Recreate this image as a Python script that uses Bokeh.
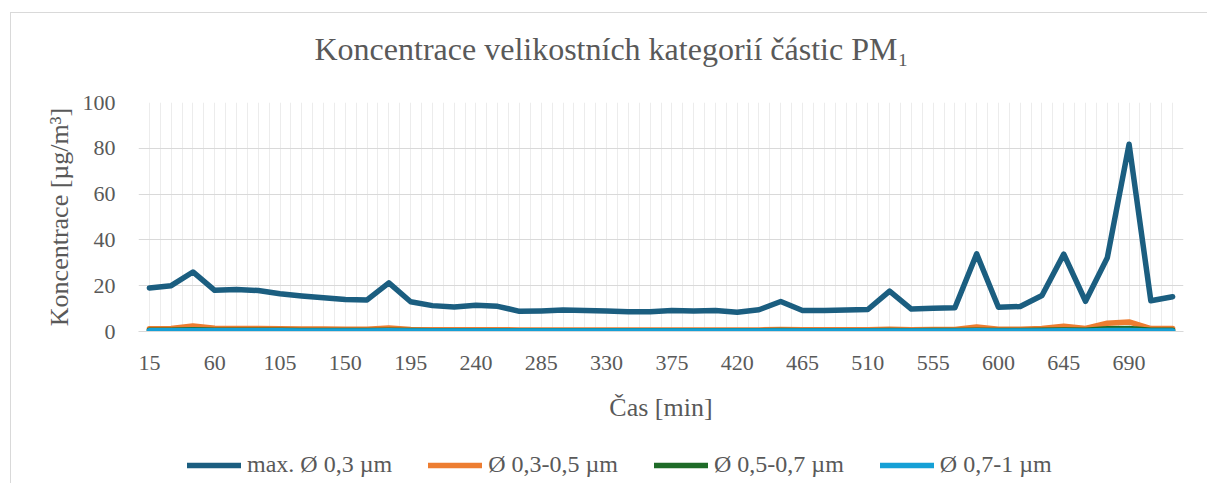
from bokeh.plotting import figure
from bokeh.layouts import column
from bokeh.models import FixedTicker, Legend, LegendItem
from bokeh.embed import file_html
from bokeh.resources import INLINE

# ---- data ----
time_min = [15, 30, 45, 60, 75, 90, 105, 120, 135, 150, 165, 180,
            195, 210, 225, 240, 255, 270, 285, 300, 315, 330, 345, 360,
            375, 390, 405, 420, 435, 450, 465, 480, 495, 510, 525, 540,
            555, 570, 585, 600, 615, 630, 645, 660, 675, 690, 705, 720]
tick_values = [15, 60, 105, 150, 195, 240, 285, 330, 375, 420, 465, 510, 555, 600, 645, 690]
y_ticks = [0, 20, 40, 60, 80, 100]

pm_max_03 = [19.0, 20.0, 26.0, 18.0, 18.3, 17.9, 16.5, 15.5, 14.7, 14.0, 13.8, 21.2,
             13.0, 11.3, 10.7, 11.5, 11.0, 8.8, 9.0, 9.4, 9.2, 8.9, 8.6, 8.6,
             9.2, 9.0, 9.2, 8.4, 9.5, 13.1, 9.2, 9.2, 9.4, 9.6, 17.6, 9.8,
             10.1, 10.4, 33.9, 10.6, 10.9, 15.7, 33.8, 13.2, 32.2, 81.8, 13.4, 15.2]
pm_03_05 = [1.2, 1.3, 2.4, 1.4, 1.3, 1.3, 1.2, 1.1, 1.1, 1.0, 1.0, 1.5,
            0.9, 0.8, 0.8, 0.8, 0.8, 0.7, 0.7, 0.7, 0.7, 0.7, 0.7, 0.7,
            0.7, 0.7, 0.7, 0.7, 0.7, 0.9, 0.8, 0.8, 0.8, 0.8, 1.0, 0.8,
            0.9, 0.9, 2.0, 1.0, 1.0, 1.3, 2.3, 1.3, 3.6, 4.2, 1.3, 1.3]
pm_05_07 = [0.5, 0.5, 0.8, 0.5, 0.5, 0.5, 0.5, 0.4, 0.4, 0.4, 0.4, 0.5,
            0.4, 0.3, 0.3, 0.3, 0.3, 0.3, 0.3, 0.3, 0.3, 0.3, 0.3, 0.3,
            0.3, 0.3, 0.3, 0.3, 0.3, 0.4, 0.3, 0.3, 0.3, 0.3, 0.4, 0.3,
            0.4, 0.4, 0.6, 0.4, 0.4, 0.5, 0.7, 0.5, 1.2, 1.3, 0.5, 0.5]
pm_07_1 = [0.3, 0.3, 0.4, 0.3, 0.3, 0.3, 0.3, 0.2, 0.2, 0.2, 0.2, 0.3,
           0.2, 0.2, 0.2, 0.2, 0.2, 0.2, 0.2, 0.2, 0.2, 0.2, 0.2, 0.2,
           0.2, 0.2, 0.2, 0.2, 0.2, 0.2, 0.2, 0.2, 0.2, 0.2, 0.2, 0.2,
           0.2, 0.2, 0.3, 0.2, 0.2, 0.2, 0.3, 0.2, 0.4, 0.4, 0.2, 0.2]

series_names = ["max. Ø 0,3 µm", "Ø 0,3-0,5 µm", "Ø 0,5-0,7 µm", "Ø 0,7-1 µm"]
series_values = [pm_max_03, pm_03_05, pm_05_07, pm_07_1]
colors = ["#1b5e80", "#ed7d31", "#1e6b28", "#15a0d6"]

FONT = "Liberation Serif"
TXT = "#595959"

# title strip
pt = figure(width=1196, height=75, x_range=(0, 1), y_range=(0, 1),
            output_backend="svg", toolbar_location=None,
            x_axis_type=None, y_axis_type=None, min_border=0,
            outline_line_color=None)
pt.grid.visible = False
pt.title.text = "Koncentrace velikostních kategorií částic PM₁"
pt.title.align = "left"
pt.title.vertical_align = "top"
pt.title.offset = 176
pt.title.standoff = 34
pt.title.text_font = FONT
pt.title.text_font_size = "32px"
pt.title.text_font_style = "normal"
pt.title.text_color = TXT

# main chart
p = figure(frame_width=1045, frame_height=229, x_range=(7.5, 727.5), y_range=(0, 100),
           output_backend="svg", toolbar_location=None, title=None,
           min_border_left=127, min_border_right=24, min_border_top=14, min_border_bottom=118,
           outline_line_color=None)

p.xgrid.ticker = FixedTicker(ticks=[7.5 * k for k in range(1, 97)])
p.xgrid.grid_line_color = "#ececec"
p.xgrid.grid_line_width = 1
p.ygrid.ticker = FixedTicker(ticks=y_ticks)
p.ygrid.grid_line_color = "#d9d9d9"
p.ygrid.grid_line_width = 1

p.xaxis.ticker = FixedTicker(ticks=tick_values)
p.xaxis.axis_label = "Čas [min]"
p.xaxis.axis_line_color = "#d9d9d9"
p.xaxis.major_tick_line_color = None
p.xaxis.minor_tick_line_color = None
p.xaxis.major_label_standoff = 18
p.xaxis.axis_label_standoff = 20

p.yaxis.ticker = FixedTicker(ticks=y_ticks)
p.yaxis.axis_label = "Koncentrace [µg/m³]"
p.yaxis.axis_line_color = None
p.yaxis.major_tick_line_color = None
p.yaxis.minor_tick_line_color = None
p.yaxis.major_label_standoff = 17
p.yaxis.axis_label_standoff = 6

for ax in (p.xaxis[0], p.yaxis[0]):
    ax.major_label_text_font = FONT
    ax.major_label_text_font_size = "22px"
    ax.major_label_text_color = TXT
    ax.axis_label_text_font = FONT
    ax.axis_label_text_font_size = "26px"
    ax.axis_label_text_font_style = "normal"
    ax.axis_label_text_color = TXT

for vals, col in zip(series_values, colors):
    p.line(time_min, vals, line_color=col, line_width=5.5,
           line_join="round", line_cap="round")

# legend strip below the chart (same series, drawn outside its visible range)
pl = figure(width=1196, height=34, x_range=(7.5, 727.5), y_range=(1000, 1030),
            output_backend="svg", toolbar_location=None,
            x_axis_type=None, y_axis_type=None, min_border=0,
            outline_line_color=None)
pl.grid.visible = False
items = []
for name, vals, col in zip(series_names, series_values, colors):
    r = pl.line(time_min, vals, line_color=col, line_width=5.5,
                line_join="round", line_cap="round")
    items.append(LegendItem(label=name, renderers=[r]))
legend = Legend(items=items, orientation="horizontal", location=(49, 5),
                glyph_width=54, glyph_height=20, label_standoff=6, spacing=36,
                padding=0, margin=0, border_line_color=None, background_fill_alpha=0,
                label_text_font=FONT, label_text_font_size="24px", label_text_color=TXT)
pl.add_layout(legend)

layout = column(pt, p, pl, spacing=0,
                styles={"margin-left": "10px", "margin-top": "12px",
                        "border-left": "1px solid #d9d9d9", "border-top": "1px solid #d9d9d9"})

open("out.html", "w").write(file_html(layout, INLINE))
